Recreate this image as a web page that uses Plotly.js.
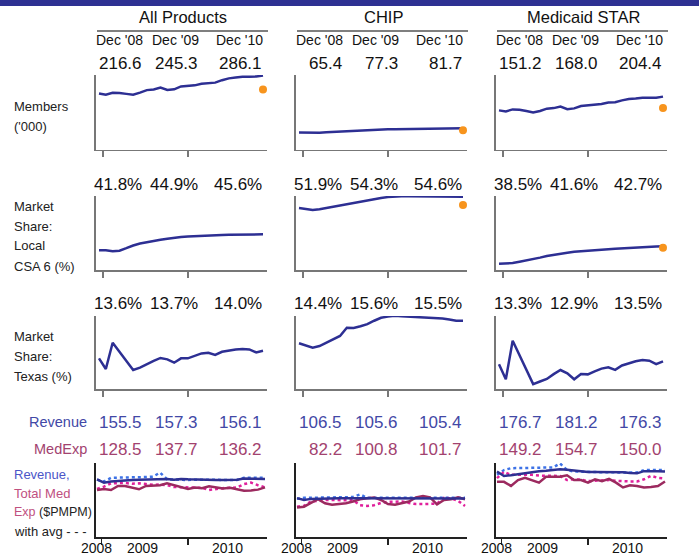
<!DOCTYPE html>
<html><head><meta charset="utf-8">
<script src="https://cdn.plot.ly/plotly-3.0.1.min.js"></script>
<style>html,body{margin:0;padding:0;background:#fff}#chart{width:699px;height:557px}</style>
</head><body><div id="chart"></div><script>
// ---------------- data ----------------
const months = ["Dec 08","Jan 09","Feb 09","Mar 09","Apr 09","May 09","Jun 09","Jul 09","Aug 09","Sep 09","Oct 09","Nov 09","Dec 09",
  "Jan 10","Feb 10","Mar 10","Apr 10","May 10","Jun 10","Jul 10","Aug 10","Sep 10","Oct 10","Nov 10","Dec 10"];
const products = ["All Products", "CHIP", "Medicaid STAR"];
const periodLabels = ["Dec '08", "Dec '09", "Dec '10"];
const yearLabels = ["2008", "2009", "2010"];
const yearPositions = [-0.05, 6.55, 18.65];

const membersAll  = [216.6,211.5,219,218.5,215,211.5,220,229.5,232,239.5,230,232.5,244,246.5,248,254,256.5,258.5,268,275,278,281.5,281.5,282,286.1];
const membersChip = [65.4,64.8,64.0,65.0,66.5,68,69.5,71,72.5,74,75.3,76.3,77.3,77.8,78.2,78.6,79,79.4,79.8,80.2,80.6,81,81.2,81.4,81.7];
const membersStar = [151.2,147,155,154,149,143,149,158,160,166,156,159,168,171,173,176,182,183,190,195,197,200,200,200,204.4];
const membersTarget = [232, 74, 160];

const localAll  = [41.8,41.8,41.6,41.7,42.3,42.95,43.4,43.75,44.05,44.3,44.55,44.8,44.95,45.1,45.2,45.3,45.35,45.4,45.45,45.5,45.52,45.55,45.56,45.58,45.6];
const localChip = [51.9,51.6,51.4,51.6,51.9,52.25,52.6,52.9,53.2,53.45,53.7,53.95,54.25,54.5,54.65,54.7,54.72,54.72,54.72,54.7,54.68,54.66,54.64,54.62,54.6];
const localStar = [38.6,38.6,38.75,39.05,39.35,39.65,40.05,40.45,40.75,41.0,41.2,41.45,41.6,41.75,41.85,41.95,42.05,42.15,42.25,42.4,42.55,42.65,42.7,42.72,42.75];
const localTarget = [null, 52.6, 42.4];

const texasAll  = [13.60,13.06,14.39,13.93,13.47,13.01,13.13,13.32,13.47,13.62,13.55,13.38,13.60,13.60,13.72,13.85,13.88,13.77,13.93,13.99,14.05,14.07,14.05,13.90,13.98];
const texasChip = [14.36,14.25,14.14,14.22,14.40,14.58,14.73,15.15,15.13,15.22,15.33,15.50,15.65,15.71,15.75,15.73,15.71,15.70,15.70,15.68,15.65,15.61,15.56,15.50,15.50];
const texasStar = [13.30,12.54,14.49,13.76,13.03,12.30,12.43,12.56,12.80,13.01,12.84,12.54,12.81,12.79,12.94,13.08,13.15,13.02,13.24,13.35,13.45,13.51,13.48,13.31,13.45];

const revAll    = [156,147,150,152,153,154,155,156,157,158,157,155,157,156,155,154,154,154,154,154,155,158,158,157,157];
const revAvgAll = [155,150,160,160,160,161,161,162,163,174,156,155,155,154,155,155,154,155,154,155,154,160,160,160,160];
const medAll    = [127,130,127,138,138,133,129,138,139,140,145,140,136,130,134,132,137,133,131,133,128,125,126,128,134];
const medAvgAll = [130,136,145,146,146,144,145,143,141,142,140,135,134,134,133,133,127,130,132,133,134,143,147,140,134];

const revChip    = [105,100,103,104,104,105,105,105,105,105,105,105,105,105,105,105,104,104,104,105,105,105,105,105,104];
const revAvgChip = [103,106,106,106,106,106,106,106,108,115,106,106,106,106,106,106,106,106,106,106,106,106,106,106,106];
const medChip    = [80,82,92,102,91,87,89,91,96,102,105,107,100,89,87,91,96,107,111,107,88,100,102,107,102];
const medAvgChip = [82,84,96,99,100,100,99,100,99,86,84,86,92,95,96,96,92,89,89,89,90,106,104,98,84];

const revStar    = [177,165,167,170,174,176,178,179,181,183,182,180,177,176,176,176,176,176,175,173,172,178,179,178,177];
const revAvgStar = [168,181,186,186,186,186,187,187,188,199,181,177,176,176,176,175,175,174,174,174,174,181,181,181,181];
const medStar    = [149,149,138,154,160,154,147,163,163,163,167,154,154,147,156,151,157,147,134,140,138,134,135,138,150];
const medAvgStar = [159,176,168,168,170,168,166,165,165,165,154,156,155,151,152,154,154,152,150,150,150,156,165,160,158];

const membersLabels = [["216.6","245.3","286.1"],["65.4","77.3","81.7"],["151.2","168.0","204.4"]];
const localLabels   = [["41.8%","44.9%","45.6%"],["51.9%","54.3%","54.6%"],["38.5%","41.6%","42.7%"]];
const texasLabels   = [["13.6%","13.7%","14.0%"],["14.4%","15.6%","15.5%"],["13.3%","12.9%","13.5%"]];
const revenueLabels = [["155.5","157.3","156.1"],["106.5","105.6","105.4"],["176.7","181.2","176.3"]];
const medexpLabels  = [["128.5","137.7","136.2"],["82.2","100.8","101.7"],["149.2","154.7","150.0"]];

// ---------------- layout helpers ----------------
const W = 699, H = 557;
const px = v => v / W;
const py = v => 1 - v / H;
const FONT = "'Liberation Sans',Arial,sans-serif";
const NAVY = "#2d2f93", ORANGE = "#f7941d";
const REV_C = "#2e3192", REV_DOT = "#3d72e6", MED_C = "#9c2a5f", MED_DOT = "#e0209c";
const REV_TXT = "#4248a6", MED_TXT = "#a2426f";
const colX = [96, 296, 496];
const PW = 171;
const rowsY = [[75, 149.5], [196, 270], [316, 389], [463, 537]];
const yRanges = [[0, 288], [37.1, 54.75], [12.05, 15.74], [0, 200]];
const idx = months.map((m, i) => i);

const rowData = [
  [membersAll, membersChip, membersStar],
  [localAll, localChip, localStar],
  [texasAll, texasChip, texasStar]
];
const rowTargets = [membersTarget, localTarget, [null, null, null]];
const finData = [
  [revAll, revAvgAll, medAll, medAvgAll],
  [revChip, revAvgChip, medChip, medAvgChip],
  [revStar, revAvgStar, medStar, medAvgStar]
];

const traces = [];
const layout = {
  width: W, height: H, margin: {l: 0, r: 0, t: 0, b: 0},
  paper_bgcolor: "#fff", plot_bgcolor: "rgba(0,0,0,0)",
  showlegend: false, font: {family: FONT, color: "#111"},
  annotations: [], shapes: []
};

function suf(k) { return k === 1 ? "" : String(k); }

for (let r = 0; r < 4; r++) {
  for (let c = 0; c < 3; c++) {
    const k = r * 3 + c + 1, s = suf(k);
    const last = r === 3;
    const xr = last ? [-1 / 7, 24 + 2 / 7] : [-3 / 6.833, 24 + 4 / 6.833];
    const axCol = last ? "#222" : "#777";
    layout["xaxis" + s] = {
      domain: [px(colX[c]), px(colX[c] + PW)], range: xr, anchor: "y" + s,
      showline: true, linecolor: axCol, linewidth: 1.5, mirror: false,
      ticks: "outside", tickvals: last ? [0.67, 13] : [0.6, 13], ticklen: 6, tickwidth: 1.5, tickcolor: axCol,
      showticklabels: false, showgrid: false, zeroline: false, fixedrange: true
    };
    layout["yaxis" + s] = {
      domain: [py(rowsY[r][1]), py(rowsY[r][0])], range: yRanges[r], anchor: "x" + s,
      showline: true, linecolor: axCol, linewidth: 2,
      ticks: "", showticklabels: false, showgrid: false, zeroline: false, fixedrange: true
    };
    if (!last) {
      traces.push({x: idx, y: rowData[r][c], xaxis: "x" + s, yaxis: "y" + s, mode: "lines",
        line: {color: NAVY, width: 2.5}, hoverinfo: "y"});
      const t = rowTargets[r][c];
      if (t !== null) traces.push({x: [idx[idx.length - 1]], y: [t], xaxis: "x" + s, yaxis: "y" + s,
        mode: "markers", marker: {color: ORANGE, size: 8}, hoverinfo: "y"});
    } else {
      const [rv, rva, md, mda] = finData[c];
      traces.push({x: idx, y: rva, xaxis: "x" + s, yaxis: "y" + s, mode: "lines", line: {color: REV_DOT, width: 2.5, dash: "dot"}});
      traces.push({x: idx, y: mda, xaxis: "x" + s, yaxis: "y" + s, mode: "lines", line: {color: MED_DOT, width: 2.5, dash: "dot"}});
      traces.push({x: idx, y: md, xaxis: "x" + s, yaxis: "y" + s, mode: "lines", line: {color: MED_C, width: 2.5}});
      traces.push({x: idx, y: rv, xaxis: "x" + s, yaxis: "y" + s, mode: "lines", line: {color: REV_C, width: 2.5}});
      yearLabels.forEach((yl, j) => layout.annotations.push({
        text: yl, xref: "x" + s, yref: "paper", x: yearPositions[j], y: 0, xanchor: "center", yanchor: "bottom",
        borderpad: 0, showarrow: false, font: {size: 14, color: "#111", family: FONT}
      }));
    }
  }
}

// header
const A = layout.annotations;
function txt(t, x, y, size, color, xanchor) {
  A.push({text: t, xref: "paper", yref: "paper", x: px(x), y: py(y), xanchor: xanchor || "center", yanchor: "middle",
    showarrow: false, font: {size: size, color: color || "#111", family: FONT}});
}
layout.shapes.push({type: "rect", xref: "paper", yref: "paper", x0: 0, x1: 1, y0: py(6), y1: 1,
  fillcolor: "#2e3192", line: {width: 0}});
const valOff = [48, 104, 167.5];
const NS = 17;
products.forEach((p, c) => {
  const X0 = colX[c];
  txt(p, X0 + 87, 17, 16.5);
  layout.shapes.push({type: "line", xref: "paper", yref: "paper", x0: px(X0 + 1), x1: px(X0 + 172), y0: py(31), y1: py(31),
    line: {color: "#555", width: 1.5}});
  periodLabels.forEach((d, j) => txt(d, X0 + valOff[j] + 1, 40, 14, "#111", "right"));
  for (let j = 0; j < 3; j++) {
    txt(membersLabels[c][j], X0 + valOff[j], 63, NS, "#111", "right");
    txt(localLabels[c][j], X0 + valOff[j], 184, NS, "#111", "right");
    txt(texasLabels[c][j], X0 + valOff[j], 303, NS, "#111", "right");
    txt(revenueLabels[c][j], X0 + valOff[j], 422, NS, REV_TXT, "right");
    txt(medexpLabels[c][j], X0 + valOff[j], 449, NS, MED_TXT, "right");
  }
});

// row labels
const L = 12;
const LS = 13;
txt("Members", L, 106, LS, "#222", "left");
txt("('000)", L, 126, LS, "#222", "left");
txt("Market", L, 206, LS, "#222", "left");
txt("Share:", L, 226, LS, "#222", "left");
txt("Local", L, 246, LS, "#222", "left");
txt("CSA 6 (%)", L, 266, LS, "#222", "left");
txt("Market", L, 336, LS, "#222", "left");
txt("Share:", L, 356, LS, "#222", "left");
txt("Texas (%)", L, 376, LS, "#222", "left");
txt("Revenue", 89, 422, 14.5, REV_TXT, "right");
txt("MedExp", 89, 449, 14.5, MED_TXT, "right");
txt("Revenue,", L, 474, LS, "#4b55c8", "left");
txt("Total Med", L, 493, LS, "#c0507f", "left");
txt("<span style='color:#c0507f'>Exp</span> ($PMPM)", L, 512, 12.5, "#222", "left");
txt("with avg - - -", L, 531, LS, "#222", "left");

Plotly.newPlot("chart", traces, layout, {displayModeBar: false, staticPlot: true});
</script></body></html>
